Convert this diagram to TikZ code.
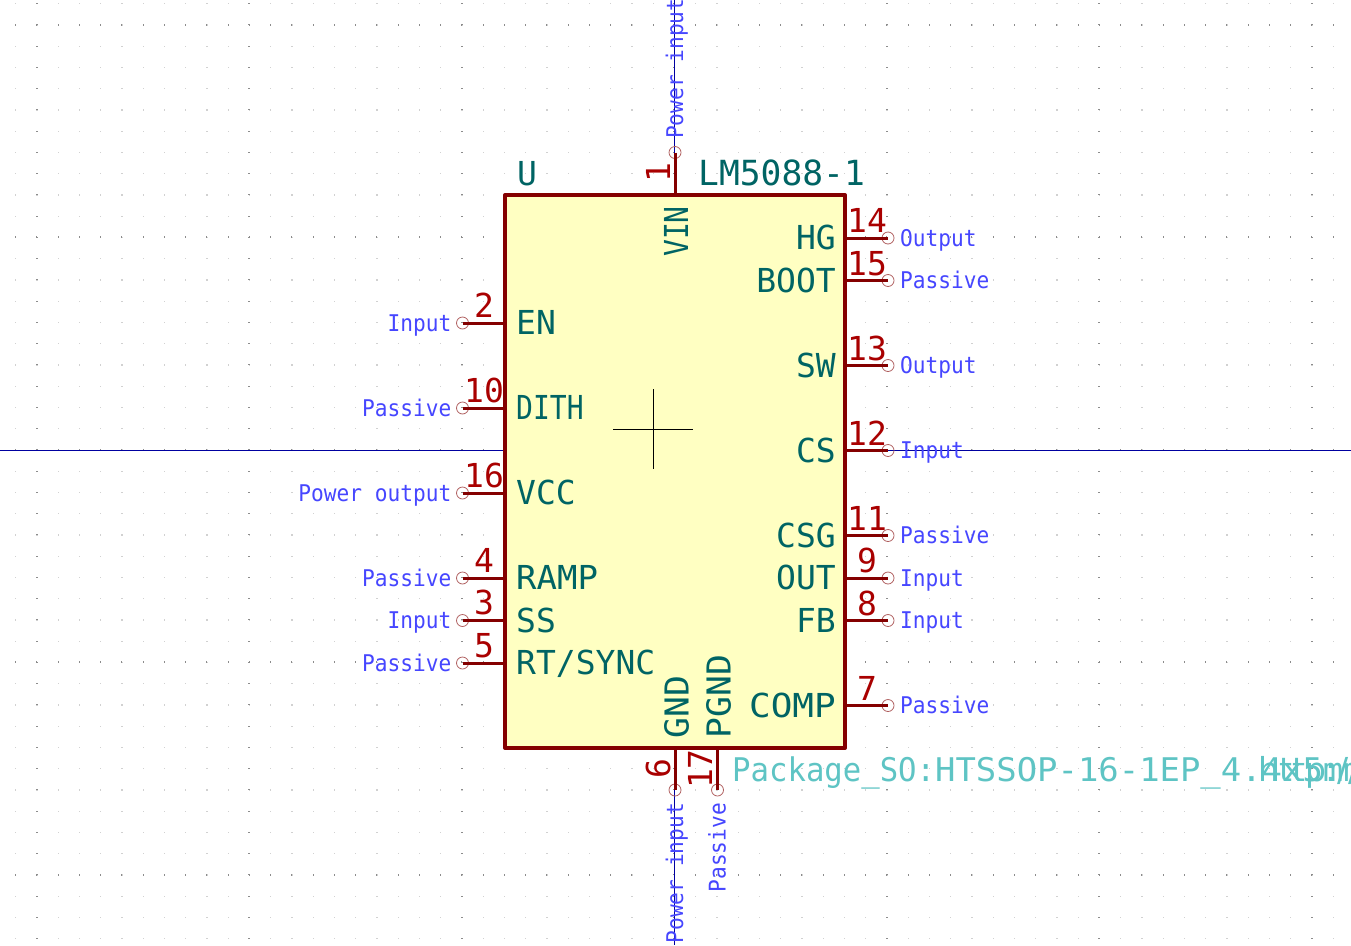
\documentclass[tikz,border=0pt]{standalone}
\usepackage{fontspec}
\usepackage{tikz}
\usetikzlibrary{positioning, calc}
\newfontfamily\kifont{DejaVu Sans Mono}
\newfontfamily\kitype[FakeStretch=0.92]{DejaVu Sans Mono}
\newfontfamily\kiprop{DejaVu Sans}
\definecolor{bodyline}{HTML}{840000}
\definecolor{bodyfill}{HTML}{FFFFC2}
\definecolor{pinnumcol}{HTML}{A90000}
\definecolor{pinnamecol}{HTML}{006464}
\definecolor{pintypecol}{HTML}{4646FF}
\definecolor{fpcol}{HTML}{5EC4C4}
\definecolor{axiscol}{HTML}{0000A0}
\definecolor{circcol}{HTML}{B06060}
\tikzset{
  chipbody/.style={draw=bodyline, fill=bodyfill, line width=4pt, line join=round, inner sep=0pt, outer sep=0pt, minimum width=340pt, minimum height=553pt},
  pinline/.style={draw=bodyline, line width=3pt},
  pinend/.style={circle, draw=circcol, line width=0.8pt, inner sep=0pt, outer sep=0pt, minimum size=12pt},
  pinname/.style={text=pinnamecol, inner sep=0pt, font=\kifont\fontsize{33}{33}\selectfont},
  pinnum/.style={text=pinnumcol, inner sep=0pt, font=\kifont\fontsize{33}{33}\selectfont},
  pintype/.style={text=pintypecol, inner sep=0pt, font=\kitype\fontsize{23}{23}\selectfont},
  fptext/.style={text=fpcol, inner sep=0pt, font=\kifont\fontsize{32.6}{33}\selectfont},
  axisline/.style={draw=axiscol, line width=0.8pt}
}
\begin{document}
\begin{tikzpicture}[x=1pt,y=-1pt]
    \useasboundingbox (0,0) rectangle (1351,945);
    \clip (0,0) rectangle (1351,945);
    \fill[white] (0,0) rectangle (1351,945);

    % Draw the grid
    \foreach \i in {0,...,63} {
      \foreach \j in {0,...,44} {
        \fill[black!18] ({15+21.25*\i},{3+21.25*\j}) rectangle +(1.3,1.3);
      }
    }
    \foreach \j in {1,11,21,31,41} {
      \foreach \i in {0,...,63} {
        \fill[black!45] ({15.2+21.25*\i},{2.5+21.25*\j}) rectangle +(1,2.2);
      }
    }
    \foreach \i in {1,11,21,31,41,51,61} {
      \foreach \j in {0,...,44} {
        \fill[black!45] ({14.5+21.25*\i},{3.2+21.25*\j}) rectangle +(2.2,1);
      }
    }

    % Draw the axes
    \coordinate (axisW) at (0,450.5);
    \coordinate (axisE) at (1351,450.5);
    \coordinate (axisN) at (674.5,0);
    \coordinate (axisS) at (674.5,945);
    \draw[axisline] (axisW) -- (axisE);
    \draw[axisline] (axisN) -- (axisS);

    % Draw the body
    \node[chipbody] (chip) at (675,471.5) {};

    % Draw the anchor cross
    \coordinate (crossW) at (613,429);
    \coordinate (crossE) at (692.5,429);
    \coordinate (crossN) at (653.5,389);
    \coordinate (crossS) at (653.5,468.5);
    \draw[line width=0.8pt] (crossW) -- (crossE);
    \draw[line width=0.8pt] (crossN) -- (crossS);

    % Left pins
    \foreach \num/\y/\name/\kind in {2/323/EN/Input, 10/408/\scalebox{.85}[1]{DITH}/Passive, 16/493/VCC/Power output, 4/578/\scalebox{1.03}[1]{RAMP}/Passive, 3/620.5/SS/Input, 5/663/RT\slash SYNC/Passive} {
      \node[pinend] (pin\num) at (462.5,\y) {};
      \draw[pinline] (pin\num.center) -- (pin\num.center -| chip.west);
      \node[pinnum, anchor=base] (num\num) at (484,\y-6) {\num};
      \node[pinname, anchor=base west] (name\num) at (516,\y+11.5) {\name};
      \node[pintype, anchor=base east] (kind\num) at (451.5,\y+8) {\kind};
    }

    % Right pins
    \foreach \num/\y/\name/\kind in {14/238/HG/Output, 15/280.5/BOOT/Passive, 13/365.5/SW/Output, 12/450.5/CS/Input, 11/535.5/CSG/Passive, 9/578/OUT/Input, 8/620.5/FB/Input, 7/705.5/\scalebox{1.09}[1]{COMP}/Passive} {
      \node[pinend] (pin\num) at (888,\y) {};
      \draw[pinline] (pin\num.center) -- (pin\num.center -| chip.east);
      \node[pinnum, anchor=base] (num\num) at (867,\y-5.5) {\num};
      \node[pinname, anchor=base east] (name\num) at (836,\y+11.5) {\name};
      \node[pintype, anchor=base west] (kind\num) at (900,\y+8) {\kind};
    }

    % Top pin
    \node[pinend] (pin1) at (675,152.5) {};
    \draw[pinline] (pin1.center) -- (pin1.center |- chip.north);
    \node[pinnum, rotate=90, anchor=base] (num1) at (670,173) {1};
    \node[pinname, rotate=90, anchor=base east] (name1) at (688,206) {\scalebox{.85}[1]{VIN}};
    \node[pintype, rotate=90, anchor=base west] (kind1) at (683,139) {Power input};

    % Bottom pins
    \node[pinend] (pin6) at (675,790) {};
    \node[pinend] (pin17) at (717.5,790) {};
    \draw[pinline] (pin6.center) -- (pin6.center |- chip.south);
    \draw[pinline] (pin17.center) -- (pin17.center |- chip.south);
    \node[pinnum, rotate=90, anchor=base] (num6) at (670,769) {6};
    \node[pinnum, rotate=90, anchor=base] (num17) at (712,769) {17};
    \node[pinname, rotate=90, anchor=base west] (name6) at (688.5,738.5) {\scalebox{1.05}[1]{GND}};
    \node[pinname, rotate=90, anchor=base west] (name17) at (730.5,738.5) {\scalebox{1.05}[1]{PGND}};
    \node[pintype, rotate=90, anchor=base east] (kind6) at (683,803) {Power input};
    \node[pintype, rotate=90, anchor=base east] (kind17) at (725.5,803) {Passive};

    % Reference, value, footprint, datasheet
    \node[pinname, anchor=base west] (ref) at (517,185) {U};
    \node[pinname, anchor=base west, font=\kifont\fontsize{34.6}{34}\selectfont] (value) at (698,185) {LM5088-1};
    \node[fptext, anchor=base west] (footprint) at (732,781) {\scalebox{.94}[1]{Package\_SO:}\scalebox{1.04}[1]{HTSSOP-16-1EP\_4.4x5mm}};
    \node[fptext, anchor=base west, font=\kiprop\fontsize{33}{33}\selectfont] (sheet) at (1258,781) {http://};
\end{tikzpicture}
\end{document}
